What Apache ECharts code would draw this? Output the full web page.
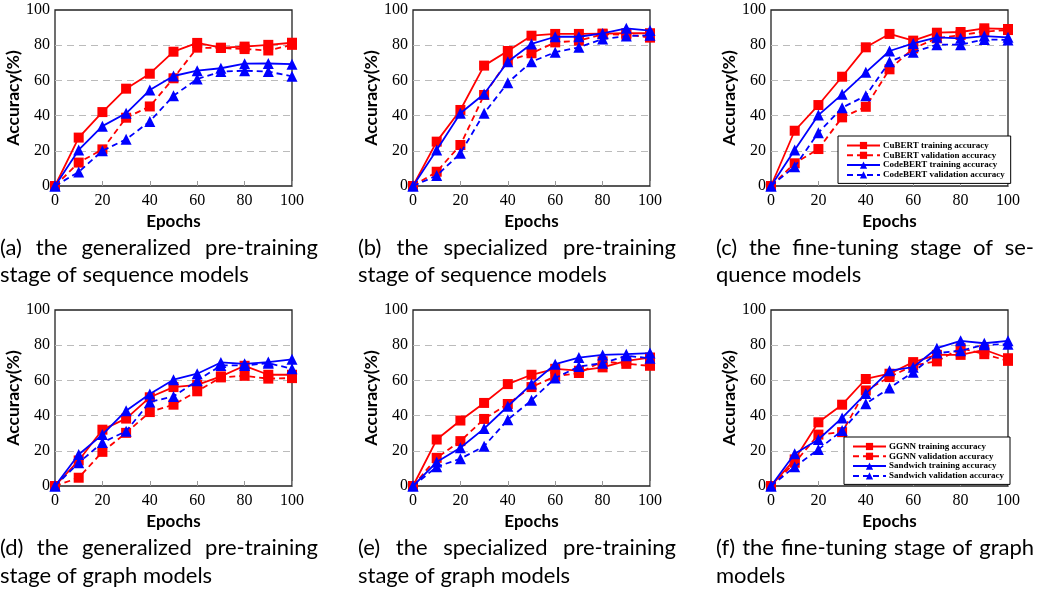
<!DOCTYPE html>
<html>
<head>
<meta charset="utf-8">
<script src="https://cdn.jsdelivr.net/npm/echarts@6/dist/echarts.min.js"></script>
<style>
html,body{margin:0;padding:0;background:#fff;}
#chart{width:1046px;height:596px;}
</style>
</head>
<body>
<div id="chart"></div>
<script>
// ---- data ----
const epochs = [0, 10, 20, 30, 40, 50, 60, 70, 80, 90, 100];

const seqNames = ['CuBERT training accuracy', 'CuBERT validation accuracy', 'CodeBERT training accuracy', 'CodeBERT validation accuracy'];
const graphNames = ['GGNN training accuracy', 'GGNN validation accuracy', 'Sandwich training accuracy', 'Sandwich validation accuracy'];

// (a) generalized pre-training, sequence models
const aCuTrain = [0, 27.5, 42, 55.3, 63.8, 76.3, 81.3, 78.6, 79.2, 80.2, 81.4];
const aCuVal   = [0, 13.3, 20.8, 38.8, 45.2, 61.2, 78.6, 78.4, 77.8, 77, 80.2];
const aCbTrain = [0, 20.5, 34, 41.3, 54.5, 62.5, 65.5, 66.9, 69.5, 69.6, 69.2];
const aCbVal   = [0, 8, 20, 26.5, 36.7, 51.3, 60.8, 65, 65.5, 65, 62.3];
// (b) specialized pre-training, sequence models
const bCuTrain = [0, 25.2, 43.2, 68.4, 76.7, 85.4, 86.4, 86.4, 86.6, 86.8, 86.8];
const bCuVal   = [0, 8.1, 23.3, 51.7, 71.2, 75.4, 81.6, 82.6, 86.2, 86, 84.3];
const bCbTrain = [0, 20.5, 41.3, 52.3, 70.6, 80.7, 84.8, 84.8, 86.7, 89.6, 88.3];
const bCbVal   = [0, 5.9, 18.6, 41.3, 58.7, 70.6, 76, 78.8, 83.5, 85.2, 85.6];
// (c) fine-tuning, sequence models
const cCuTrain = [0, 31.4, 46, 62.1, 78.8, 86.4, 82.6, 87.1, 87.5, 89.6, 89.2];
const cCuVal   = [0, 12.9, 21, 39, 45, 66.3, 78.2, 83.9, 85.8, 87.7, 88.6];
const cCbTrain = [0, 20.5, 40.3, 52.1, 64.6, 76.7, 81, 84.5, 83.9, 85.2, 84.5];
const cCbVal   = [0, 11, 30.3, 44.5, 51.3, 70.6, 76, 80.3, 80.3, 83.3, 83];
// (d) generalized pre-training, graph models
const dGgTrain = [0, 14.5, 32, 38.3, 50.4, 56.2, 57.5, 62.3, 68.3, 63.2, 63.2];
const dGgVal   = [0, 4.7, 19.4, 30.2, 42, 46.2, 53.8, 61.7, 62.6, 61, 61.3];
const dSwTrain = [0, 17.9, 29.2, 42.8, 52.3, 60.4, 63.8, 70.2, 69.4, 70.4, 72];
const dSwVal   = [0, 13.2, 24.7, 31.1, 47.7, 50.9, 59.8, 68.5, 68.5, 69.8, 66.6];
// (e) specialized pre-training, graph models
const eGgTrain = [0, 26.4, 37.2, 47.2, 57.9, 63.2, 66.6, 65.5, 67.4, 71.1, 73];
const eGgVal   = [0, 16, 25.5, 38.1, 46.6, 56.2, 62.3, 64.2, 70.8, 69.4, 68.3];
const eSwTrain = [0, 13.6, 21.7, 32.6, 45.3, 57.9, 69.2, 73, 74.5, 74.9, 75.5];
const eSwVal   = [0, 10.9, 15.5, 22.6, 37.7, 48.7, 61.3, 67.9, 69.8, 74, 72.6];
// (f) fine-tuning, graph models
const fGgTrain = [0, 15.1, 36.2, 46.2, 60.8, 63.8, 70.4, 74.5, 74.5, 77.4, 72.6];
const fGgVal   = [0, 13.2, 29.2, 30.6, 54.3, 61.9, 68.5, 70.8, 78.3, 74.9, 71.1];
const fSwTrain = [0, 18.3, 26.4, 38.7, 52.5, 65.5, 67.5, 78.3, 82.5, 81.1, 82.5];
const fSwVal   = [0, 10.9, 20.8, 31.5, 46.8, 55.7, 64.7, 75.5, 76.8, 80.2, 80.6];

const captions = [
  ['(a) the generalized pre-training', 'stage of sequence models'],
  ['(b) the specialized pre-training', 'stage of sequence models'],
  ['(c) the fine-tuning stage of se-', 'quence models'],
  ['(d) the generalized pre-training', 'stage of graph models'],
  ['(e) the specialized pre-training', 'stage of graph models'],
  ['(f) the fine-tuning stage of graph', 'models']
];

const panels = [
  {names: seqNames, data: [aCuTrain, aCuVal, aCbTrain, aCbVal]},
  {names: seqNames, data: [bCuTrain, bCuVal, bCbTrain, bCbVal]},
  {names: seqNames, data: [cCuTrain, cCuVal, cCbTrain, cCbVal]},
  {names: graphNames, data: [dGgTrain, dGgVal, dSwTrain, dSwVal]},
  {names: graphNames, data: [eGgTrain, eGgVal, eSwTrain, eSwVal]},
  {names: graphNames, data: [fGgTrain, fGgVal, fSwTrain, fSwVal]}
];

// ---- layout / style ----
const colLeft = [55, 413, 771];
const rowTop = [10, 310];
const gw = 237, gh = 176;
const capX = [0, 358, 716];
const capW = 318;
const capY = [[248, 275], [548, 576]];
const capFont = '22px Lato';
const styles = [
  {color: '#ff0000', symbol: 'rect', dash: 'solid'},
  {color: '#ff0000', symbol: 'rect', dash: [6, 4]},
  {color: '#0000ff', symbol: 'triangle', dash: 'solid'},
  {color: '#0000ff', symbol: 'triangle', dash: [6, 4]}
];

const measureCtx = document.createElement('canvas').getContext('2d');
measureCtx.font = capFont;
function textW(t) { return measureCtx.measureText(t).width; }

const grid = [], xAxis = [], yAxis = [], series = [], graphic = [];
panels.forEach((p, i) => {
  const r = Math.floor(i / 3), c = i % 3;
  grid.push({left: colLeft[c], top: rowTop[r], width: gw, height: gh,
    show: true, borderColor: '#222', borderWidth: 1.3, backgroundColor: 'transparent'});
  xAxis.push({type: 'value', gridIndex: i, min: 0, max: 100, interval: 20,
    axisLine: {show: false},
    axisTick: {show: true, inside: true, length: 5, lineStyle: {color: '#999'}},
    axisLabel: {fontFamily: 'Liberation Serif', fontSize: 16, color: '#000', margin: 7},
    splitLine: {show: false},
    name: 'Epochs', nameLocation: 'middle', nameGap: 27,
    nameTextStyle: {fontFamily: 'Lato', fontWeight: 'bold', fontSize: 17, color: '#000'}});
  yAxis.push({type: 'value', gridIndex: i, min: 0, max: 100, interval: 20,
    axisLine: {show: false},
    axisTick: {show: false},
    axisLabel: {fontFamily: 'Liberation Serif', fontSize: 16, color: '#000', margin: 5},
    splitLine: {show: true, showMinLine: false, showMaxLine: false,
      lineStyle: {color: '#bbb', width: 1, type: [7, 5]}},
    name: 'Accuracy(%)', nameLocation: 'middle', nameGap: 31, nameRotate: 90,
    nameTextStyle: {fontFamily: 'Lato', fontWeight: 'bold', fontSize: 17.5, color: '#000'}});
  p.data.forEach((d, k) => {
    const s = styles[k];
    series.push({type: 'line', name: p.names[k], xAxisIndex: i, yAxisIndex: i,
      data: epochs.map((e, j) => [e, d[j]]),
      symbol: s.symbol, symbolSize: s.symbol === 'rect' ? 10 : 11,
      lineStyle: {color: s.color, width: 1.8, type: s.dash},
      itemStyle: {color: s.color},
      z: 2 + k, animation: false});
  });
  // captions: first line justified to the column width, second line left-aligned
  captions[i].forEach((t, l) => {
    const y = capY[r][l];
    if (l === 0) {
      const words = t.split(' ');
      const total = words.reduce((a, w) => a + textW(w), 0);
      const gap = (capW - total) / (words.length - 1);
      let x = capX[c];
      words.forEach(w => {
        graphic.push({type: 'text', x: x, y: y,
          style: {text: w, font: capFont, fill: '#000', verticalAlign: 'middle'}});
        x += textW(w) + gap;
      });
    } else {
      graphic.push({type: 'text', x: capX[c], y: y,
        style: {text: t, font: capFont, fill: '#000', verticalAlign: 'middle'}});
    }
  });
});

const legendBase = {orient: 'vertical', backgroundColor: '#fff', borderColor: '#000', borderWidth: 1,
  padding: [5, 6, 4, 8], itemWidth: 33, itemHeight: 9, itemGap: 0.8, selectedMode: false,
  textStyle: {fontFamily: 'Liberation Serif', fontWeight: 'bold', fontSize: 9, color: '#000', padding: [0, 0, 0, -2]}};

const option = {
  animation: false,
  backgroundColor: '#fff',
  grid, xAxis, yAxis, series, graphic,
  legend: [
    Object.assign({}, legendBase, {data: seqNames, left: 838, top: 136}),
    Object.assign({}, legendBase, {data: graphNames, left: 844, top: 437})
  ]
};

const chart = echarts.init(document.getElementById('chart'), null, {renderer: 'canvas'});
chart.setOption(option);
</script>
</body>
</html>
